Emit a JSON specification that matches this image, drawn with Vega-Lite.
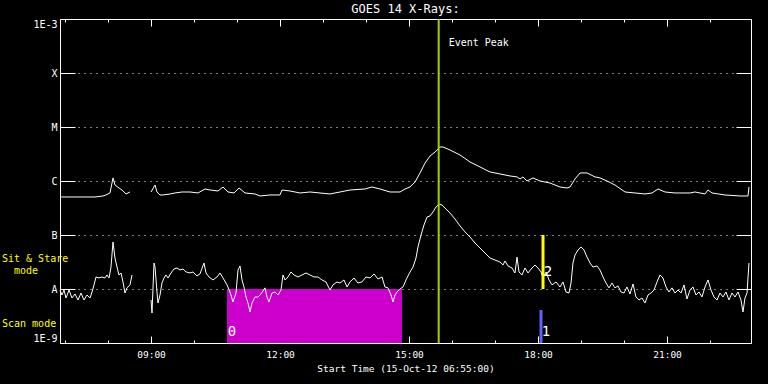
{
  "$schema": "https://vega.github.io/schema/vega-lite/v6.json",
  "width": 691,
  "height": 324,
  "autosize": {"type": "none"},
  "padding": {"left": 60, "top": 19, "right": 17, "bottom": 41},
  "background": "black",
  "title": {"text": "GOES 14 X-Rays:", "color": "white", "font": "DejaVu Sans Mono", "fontSize": 12, "fontWeight": "normal", "offset": 2, "anchor": "middle"},
  "config": {
    "view": {"stroke": null},
    "axis": {"domainColor": "white", "tickColor": "white", "labelColor": "white", "titleColor": "white", "labelFont": "DejaVu Sans Mono", "titleFont": "DejaVu Sans Mono", "titleFontWeight": "normal", "gridColor": "white", "domainWidth": 1, "tickWidth": 1}
  },
  "datasets": {
    "flux": [
      {"s":"L1","h":6.883,"f":5.06e-7},{"s":"L1","h":7.023,"f":5.06e-7},{"s":"L1","h":7.232,"f":5.06e-7},{"s":"L1","h":7.465,"f":5.06e-7},{"s":"L1","h":7.697,"f":5.06e-7},{"s":"L1","h":7.883,"f":5.28e-7},{"s":"L1","h":7.953,"f":5.51e-7},{"s":"L1","h":8.046,"f":6.0e-7},{"s":"L1","h":8.116,"f":1.14e-6},{"s":"L1","h":8.162,"f":8.43e-7},{"s":"L1","h":8.255,"f":7.42e-7},{"s":"L1","h":8.325,"f":6.81e-7},{"s":"L1","h":8.418,"f":5.75e-7},{"s":"L1","h":8.511,"f":6.26e-7},
      {"s":"L2","h":9.0,"f":6.26e-7},{"s":"L2","h":9.093,"f":8.43e-7},{"s":"L2","h":9.139,"f":6.26e-7},{"s":"L2","h":9.209,"f":5.51e-7},{"s":"L2","h":9.279,"f":5.51e-7},{"s":"L2","h":9.442,"f":5.75e-7},{"s":"L2","h":9.558,"f":6.0e-7},{"s":"L2","h":9.721,"f":6.26e-7},{"s":"L2","h":9.907,"f":6.26e-7},{"s":"L2","h":10.093,"f":6.0e-7},{"s":"L2","h":10.256,"f":7.11e-7},{"s":"L2","h":10.372,"f":6.81e-7},{"s":"L2","h":10.558,"f":6.53e-7},{"s":"L2","h":10.674,"f":7.74e-7},{"s":"L2","h":10.791,"f":6.26e-7},{"s":"L2","h":10.93,"f":6.0e-7},{"s":"L2","h":11.047,"f":7.42e-7},{"s":"L2","h":11.186,"f":6.0e-7},{"s":"L2","h":11.419,"f":5.75e-7},{"s":"L2","h":11.535,"f":5.28e-7},{"s":"L2","h":11.767,"f":5.51e-7},{"s":"L2","h":12.0,"f":5.51e-7},{"s":"L2","h":12.046,"f":6.81e-7},{"s":"L2","h":12.233,"f":6.53e-7},{"s":"L2","h":12.465,"f":6.0e-7},{"s":"L2","h":12.698,"f":6.26e-7},{"s":"L2","h":12.93,"f":6.0e-7},{"s":"L2","h":13.163,"f":5.75e-7},{"s":"L2","h":13.395,"f":6.26e-7},{"s":"L2","h":13.628,"f":6.81e-7},{"s":"L2","h":13.977,"f":7.11e-7},{"s":"L2","h":14.14,"f":7.74e-7},{"s":"L2","h":14.326,"f":7.11e-7},{"s":"L2","h":14.558,"f":6.26e-7},{"s":"L2","h":14.791,"f":6.26e-7},{"s":"L2","h":14.907,"f":7.11e-7},{"s":"L2","h":15.023,"f":7.74e-7},{"s":"L2","h":15.14,"f":9.58e-7},{"s":"L2","h":15.256,"f":1.41e-6},{"s":"L2","h":15.372,"f":2.15e-6},{"s":"L2","h":15.488,"f":2.9e-6},{"s":"L2","h":15.605,"f":3.44e-6},{"s":"L2","h":15.721,"f":4.26e-6},{"s":"L2","h":15.79,"f":4.26e-6},{"s":"L2","h":15.953,"f":3.75e-6},{"s":"L2","h":16.186,"f":3.03e-6},{"s":"L2","h":16.419,"f":2.25e-6},{"s":"L2","h":16.651,"f":1.82e-6},{"s":"L2","h":16.883,"f":1.47e-6},{"s":"L2","h":17.116,"f":1.35e-6},{"s":"L2","h":17.349,"f":1.24e-6},{"s":"L2","h":17.511,"f":1.19e-6},{"s":"L2","h":17.581,"f":1.09e-6},{"s":"L2","h":17.651,"f":1.19e-6},{"s":"L2","h":17.744,"f":1.0e-6},{"s":"L2","h":17.883,"f":1.14e-6},{"s":"L2","h":18.046,"f":1.0e-6},{"s":"L2","h":18.279,"f":9.18e-7},{"s":"L2","h":18.511,"f":7.74e-7},{"s":"L2","h":18.674,"f":7.42e-7},{"s":"L2","h":18.744,"f":7.74e-7},{"s":"L2","h":18.86,"f":1.09e-6},{"s":"L2","h":18.977,"f":1.41e-6},{"s":"L2","h":19.139,"f":1.41e-6},{"s":"L2","h":19.325,"f":1.19e-6},{"s":"L2","h":19.442,"f":1.14e-6},{"s":"L2","h":19.605,"f":1.0e-6},{"s":"L2","h":19.79,"f":8.43e-7},{"s":"L2","h":20.023,"f":6.26e-7},{"s":"L2","h":20.256,"f":6.0e-7},{"s":"L2","h":20.488,"f":5.75e-7},{"s":"L2","h":20.651,"f":6.0e-7},{"s":"L2","h":20.79,"f":7.11e-7},{"s":"L2","h":20.953,"f":6.26e-7},{"s":"L2","h":21.186,"f":6.0e-7},{"s":"L2","h":21.535,"f":6.0e-7},{"s":"L2","h":21.651,"f":6.26e-7},{"s":"L2","h":21.883,"f":5.75e-7},{"s":"L2","h":21.953,"f":6.81e-7},{"s":"L2","h":22.046,"f":6.0e-7},{"s":"L2","h":22.349,"f":5.51e-7},{"s":"L2","h":22.698,"f":5.28e-7},{"s":"L2","h":22.883,"f":5.28e-7},{"s":"L2","h":22.907,"f":7.74e-7},
      {"s":"S1","h":6.883,"f":9.58e-9},{"s":"S1","h":6.93,"f":7.74e-9},{"s":"S1","h":6.976,"f":9.58e-9},{"s":"S1","h":7.023,"f":6.81e-9},{"s":"S1","h":7.093,"f":9.58e-9},{"s":"S1","h":7.162,"f":6.81e-9},{"s":"S1","h":7.232,"f":8.08e-9},{"s":"S1","h":7.302,"f":6.26e-9},{"s":"S1","h":7.372,"f":8.43e-9},{"s":"S1","h":7.441,"f":6.26e-9},{"s":"S1","h":7.511,"f":7.74e-9},{"s":"S1","h":7.581,"f":6.81e-9},{"s":"S1","h":7.628,"f":8.8e-9},{"s":"S1","h":7.674,"f":1.19e-8},{"s":"S1","h":7.721,"f":1.67e-8},{"s":"S1","h":7.79,"f":1.6e-8},{"s":"S1","h":7.86,"f":1.67e-8},{"s":"S1","h":7.93,"f":1.6e-8},{"s":"S1","h":7.976,"f":1.82e-8},{"s":"S1","h":8.023,"f":1.6e-8},{"s":"S1","h":8.069,"f":2.55e-8},{"s":"S1","h":8.116,"f":7.42e-8},{"s":"S1","h":8.162,"f":3.75e-8},{"s":"S1","h":8.209,"f":2.55e-8},{"s":"S1","h":8.255,"f":1.82e-8},{"s":"S1","h":8.302,"f":1.98e-8},{"s":"S1","h":8.348,"f":1.35e-8},{"s":"S1","h":8.395,"f":8.43e-9},{"s":"S1","h":8.441,"f":1.05e-8},{"s":"S1","h":8.511,"f":1.19e-8},{"s":"S1","h":8.558,"f":1.82e-8},
      {"s":"S2","h":9.0,"f":6.26e-9},{"s":"S2","h":9.023,"f":3.59e-9},{"s":"S2","h":9.069,"f":3.03e-8},{"s":"S2","h":9.093,"f":2.55e-8},{"s":"S2","h":9.139,"f":8.8e-9},{"s":"S2","h":9.162,"f":5.51e-9},{"s":"S2","h":9.209,"f":7.74e-9},{"s":"S2","h":9.255,"f":1.29e-8},{"s":"S2","h":9.302,"f":1.6e-8},{"s":"S2","h":9.348,"f":1.82e-8},{"s":"S2","h":9.395,"f":1.6e-8},{"s":"S2","h":9.465,"f":1.98e-8},{"s":"S2","h":9.534,"f":2.35e-8},{"s":"S2","h":9.604,"f":2.45e-8},{"s":"S2","h":9.674,"f":2.25e-8},{"s":"S2","h":9.744,"f":2.35e-8},{"s":"S2","h":9.814,"f":2.07e-8},{"s":"S2","h":9.907,"f":1.98e-8},{"s":"S2","h":9.976,"f":2.07e-8},{"s":"S2","h":10.069,"f":1.74e-8},{"s":"S2","h":10.139,"f":1.9e-8},{"s":"S2","h":10.232,"f":3.03e-8},{"s":"S2","h":10.279,"f":1.98e-8},{"s":"S2","h":10.348,"f":1.67e-8},{"s":"S2","h":10.441,"f":1.47e-8},{"s":"S2","h":10.534,"f":1.67e-8},{"s":"S2","h":10.604,"f":1.98e-8},{"s":"S2","h":10.674,"f":1.6e-8},{"s":"S2","h":10.767,"f":1.19e-8},{"s":"S2","h":10.837,"f":8.8e-9},{"s":"S2","h":10.907,"f":5.75e-9},{"s":"S2","h":10.976,"f":8.43e-9},{"s":"S2","h":11.023,"f":2.25e-8},{"s":"S2","h":11.069,"f":2.67e-8},{"s":"S2","h":11.116,"f":1.47e-8},{"s":"S2","h":11.162,"f":1.09e-8},{"s":"S2","h":11.209,"f":7.11e-9},{"s":"S2","h":11.255,"f":5.51e-9},{"s":"S2","h":11.302,"f":3.75e-9},{"s":"S2","h":11.348,"f":5.51e-9},{"s":"S2","h":11.418,"f":7.11e-9},{"s":"S2","h":11.488,"f":7.11e-9},{"s":"S2","h":11.558,"f":8.08e-9},{"s":"S2","h":11.651,"f":1.05e-8},{"s":"S2","h":11.697,"f":7.11e-9},{"s":"S2","h":11.744,"f":5.75e-9},{"s":"S2","h":11.813,"f":8.43e-9},{"s":"S2","h":11.883,"f":8.8e-9},{"s":"S2","h":11.953,"f":7.74e-9},{"s":"S2","h":12.023,"f":9.58e-9},{"s":"S2","h":12.069,"f":1.82e-8},{"s":"S2","h":12.116,"f":1.47e-8},{"s":"S2","h":12.186,"f":1.67e-8},{"s":"S2","h":12.255,"f":2.07e-8},{"s":"S2","h":12.325,"f":1.82e-8},{"s":"S2","h":12.418,"f":1.67e-8},{"s":"S2","h":12.511,"f":1.82e-8},{"s":"S2","h":12.604,"f":1.98e-8},{"s":"S2","h":12.697,"f":1.82e-8},{"s":"S2","h":12.79,"f":1.67e-8},{"s":"S2","h":12.883,"f":1.67e-8},{"s":"S2","h":12.976,"f":1.47e-8},{"s":"S2","h":13.069,"f":1.35e-8},{"s":"S2","h":13.162,"f":9.58e-9},{"s":"S2","h":13.232,"f":1.19e-8},{"s":"S2","h":13.325,"f":1.35e-8},{"s":"S2","h":13.395,"f":1.29e-8},{"s":"S2","h":13.488,"f":1.47e-8},{"s":"S2","h":13.558,"f":1.09e-8},{"s":"S2","h":13.627,"f":1.35e-8},{"s":"S2","h":13.72,"f":1.6e-8},{"s":"S2","h":13.813,"f":1.29e-8},{"s":"S2","h":13.906,"f":1.35e-8},{"s":"S2","h":13.999,"f":1.67e-8},{"s":"S2","h":14.092,"f":1.6e-8},{"s":"S2","h":14.185,"f":1.9e-8},{"s":"S2","h":14.279,"f":1.53e-8},{"s":"S2","h":14.372,"f":1.67e-8},{"s":"S2","h":14.441,"f":1.09e-8},{"s":"S2","h":14.511,"f":1.05e-8},{"s":"S2","h":14.581,"f":7.74e-9},{"s":"S2","h":14.627,"f":5.75e-9},{"s":"S2","h":14.674,"f":7.74e-9},{"s":"S2","h":14.72,"f":8.8e-9},{"s":"S2","h":14.79,"f":1.0e-8},{"s":"S2","h":14.86,"f":1.09e-8},{"s":"S2","h":14.93,"f":1.47e-8},{"s":"S2","h":15.023,"f":2.07e-8},{"s":"S2","h":15.092,"f":2.55e-8},{"s":"S2","h":15.162,"f":3.75e-8},{"s":"S2","h":15.209,"f":6.0e-8},{"s":"S2","h":15.279,"f":1.0e-7},{"s":"S2","h":15.348,"f":1.53e-7},{"s":"S2","h":15.418,"f":2.15e-7},{"s":"S2","h":15.488,"f":2.25e-7},{"s":"S2","h":15.558,"f":2.67e-7},{"s":"S2","h":15.627,"f":3.3e-7},{"s":"S2","h":15.697,"f":3.75e-7},{"s":"S2","h":15.767,"f":3.59e-7},{"s":"S2","h":15.86,"f":3.03e-7},{"s":"S2","h":15.953,"f":2.55e-7},{"s":"S2","h":16.069,"f":1.98e-7},{"s":"S2","h":16.186,"f":1.47e-7},{"s":"S2","h":16.302,"f":1.14e-7},{"s":"S2","h":16.418,"f":9.18e-8},{"s":"S2","h":16.534,"f":7.11e-8},{"s":"S2","h":16.651,"f":5.75e-8},{"s":"S2","h":16.767,"f":4.64e-8},{"s":"S2","h":16.883,"f":3.75e-8},{"s":"S2","h":17.0,"f":3.44e-8},{"s":"S2","h":17.116,"f":3.16e-8},{"s":"S2","h":17.186,"f":2.78e-8},{"s":"S2","h":17.232,"f":3.3e-8},{"s":"S2","h":17.302,"f":2.67e-8},{"s":"S2","h":17.395,"f":2.45e-8},{"s":"S2","h":17.465,"f":1.98e-8},{"s":"S2","h":17.511,"f":3.91e-8},{"s":"S2","h":17.558,"f":2.07e-8},{"s":"S2","h":17.627,"f":1.82e-8},{"s":"S2","h":17.697,"f":2.45e-8},{"s":"S2","h":17.767,"f":1.98e-8},{"s":"S2","h":17.86,"f":2.45e-8},{"s":"S2","h":17.93,"f":2.78e-8},{"s":"S2","h":18.0,"f":2.45e-8},{"s":"S2","h":18.069,"f":2.07e-8},{"s":"S2","h":18.116,"f":1.6e-8},{"s":"S2","h":18.186,"f":2.07e-8},{"s":"S2","h":18.255,"f":1.47e-8},{"s":"S2","h":18.325,"f":1.19e-8},{"s":"S2","h":18.418,"f":1.35e-8},{"s":"S2","h":18.511,"f":1.09e-8},{"s":"S2","h":18.581,"f":1.35e-8},{"s":"S2","h":18.651,"f":8.8e-9},{"s":"S2","h":18.72,"f":8.43e-9},{"s":"S2","h":18.767,"f":1.29e-8},{"s":"S2","h":18.813,"f":3.03e-8},{"s":"S2","h":18.86,"f":4.26e-8},{"s":"S2","h":18.93,"f":5.28e-8},{"s":"S2","h":19.0,"f":6.0e-8},{"s":"S2","h":19.069,"f":5.28e-8},{"s":"S2","h":19.139,"f":3.91e-8},{"s":"S2","h":19.209,"f":3.03e-8},{"s":"S2","h":19.278,"f":2.55e-8},{"s":"S2","h":19.371,"f":2.67e-8},{"s":"S2","h":19.441,"f":2.25e-8},{"s":"S2","h":19.511,"f":1.67e-8},{"s":"S2","h":19.581,"f":1.29e-8},{"s":"S2","h":19.65,"f":1.05e-8},{"s":"S2","h":19.72,"f":1.29e-8},{"s":"S2","h":19.79,"f":1.05e-8},{"s":"S2","h":19.86,"f":1.14e-8},{"s":"S2","h":19.93,"f":8.8e-9},{"s":"S2","h":19.999,"f":8.43e-9},{"s":"S2","h":20.069,"f":1.09e-8},{"s":"S2","h":20.139,"f":8.08e-9},{"s":"S2","h":20.209,"f":1.24e-8},{"s":"S2","h":20.278,"f":7.11e-9},{"s":"S2","h":20.348,"f":6.26e-9},{"s":"S2","h":20.418,"f":6.81e-9},{"s":"S2","h":20.488,"f":5.51e-9},{"s":"S2","h":20.557,"f":7.74e-9},{"s":"S2","h":20.627,"f":8.43e-9},{"s":"S2","h":20.697,"f":9.58e-9},{"s":"S2","h":20.767,"f":1.35e-8},{"s":"S2","h":20.837,"f":1.82e-8},{"s":"S2","h":20.906,"f":1.6e-8},{"s":"S2","h":20.976,"f":1.09e-8},{"s":"S2","h":21.046,"f":8.8e-9},{"s":"S2","h":21.116,"f":1.05e-8},{"s":"S2","h":21.185,"f":8.43e-9},{"s":"S2","h":21.255,"f":9.58e-9},{"s":"S2","h":21.325,"f":8.43e-9},{"s":"S2","h":21.395,"f":1.19e-8},{"s":"S2","h":21.464,"f":6.53e-9},{"s":"S2","h":21.534,"f":9.58e-9},{"s":"S2","h":21.604,"f":1.09e-8},{"s":"S2","h":21.674,"f":7.74e-9},{"s":"S2","h":21.744,"f":8.8e-9},{"s":"S2","h":21.813,"f":7.11e-9},{"s":"S2","h":21.883,"f":1.09e-8},{"s":"S2","h":21.953,"f":1.47e-8},{"s":"S2","h":22.023,"f":9.58e-9},{"s":"S2","h":22.092,"f":7.11e-9},{"s":"S2","h":22.162,"f":6.26e-9},{"s":"S2","h":22.232,"f":8.43e-9},{"s":"S2","h":22.302,"f":7.11e-9},{"s":"S2","h":22.371,"f":8.8e-9},{"s":"S2","h":22.441,"f":6.26e-9},{"s":"S2","h":22.511,"f":8.43e-9},{"s":"S2","h":22.581,"f":7.11e-9},{"s":"S2","h":22.65,"f":8.8e-9},{"s":"S2","h":22.72,"f":6.26e-9},{"s":"S2","h":22.767,"f":3.75e-9},{"s":"S2","h":22.813,"f":6.81e-9},{"s":"S2","h":22.86,"f":8.43e-9},{"s":"S2","h":22.906,"f":3.03e-8}
    ]
  },
  "layer": [
    {
      "data": {"values": [{"start": 10.767, "end": 14.837, "lo": 1e-9, "hi": 1e-8}]},
      "mark": {"type": "rect", "color": "#cc00cc"},
      "encoding": {
        "x": {"field": "start", "type": "quantitative", "scale": {"domain": [6.8833, 22.953], "nice": false, "zero": false},
          "axis": {"orient": "top", "values": [7,8,9,10,11,12,13,14,15,16,17,18,19,20,21,22], "tickSize": {"condition": {"test": "datum.value % 3 == 0", "value": -7}, "value": -3}, "labels": false, "title": null, "grid": false}},
        "x2": {"field": "end"},
        "y": {"field": "lo", "type": "quantitative", "scale": {"type": "log", "domain": [1e-9, 1e-3], "nice": false},
          "axis": {"orient": "right", "values": [1e-9,1e-8,1e-7,1e-6,1e-5,1e-4,1e-3], "tickSize": -15, "labels": false, "title": null, "grid": false}},
        "y2": {"field": "hi"}
      }
    },
    {
      "data": {"name": "flux"},
      "mark": {"type": "line", "color": "white", "strokeWidth": 1},
      "encoding": {
        "x": {"field": "h", "type": "quantitative", "scale": {"domain": [6.8833, 22.953], "nice": false, "zero": false},
          "axis": {"orient": "bottom", "values": [7,8,9,10,11,12,13,14,15,16,17,18,19,20,21,22], "tickSize": {"condition": {"test": "datum.value % 3 == 0", "value": -7}, "value": -3},
            "labelExpr": "datum.value % 3 == 0 ? (datum.value < 10 ? '0' : '') + datum.value + ':00' : ''", "labelFontSize": 9.5, "labelPadding": 13, "labelFlush": false, "labelOverlap": false,
            "title": "Start Time (15-Oct-12 06:55:00)", "titleFontSize": 9.5, "titlePadding": 1, "grid": false}},
        "y": {"field": "f", "type": "quantitative", "scale": {"type": "log", "domain": [1e-9, 1e-3], "nice": false},
          "axis": {"orient": "left", "values": [1e-9,1e-8,1e-7,1e-6,1e-5,1e-4,1e-3], "tickSize": -15,
            "labelExpr": "datum.value < 5e-9 ? '1E-9' : datum.value < 5e-8 ? 'A' : datum.value < 5e-7 ? 'B' : datum.value < 5e-6 ? 'C' : datum.value < 5e-5 ? 'M' : datum.value < 5e-4 ? 'X' : '1E-3'",
            "labelFontSize": 10, "labelPadding": 18, "labelFlush": true, "labelOverlap": false, "title": null,
            "grid": true, "gridDash": [1, 5], "gridOpacity": {"condition": {"test": "datum.value > 5e-9 && datum.value < 5e-4", "value": 1}, "value": 0}}},
        "detail": {"field": "s"}
      }
    },
    {
      "data": {"values": [{"h": 15.69}]},
      "mark": {"type": "rule", "color": "#a5d000", "strokeWidth": 2},
      "encoding": {"x": {"field": "h", "type": "quantitative", "axis": null}}
    },
    {
      "data": {"values": [{"name": "sit", "h": 18.116, "lo": 1e-8, "hi": 1e-7}, {"name": "scan", "h": 18.069, "lo": 1e-9, "hi": 4.08e-9}]},
      "mark": {"type": "rule", "strokeWidth": 3},
      "encoding": {
        "x": {"field": "h", "type": "quantitative", "axis": null},
        "y": {"field": "lo", "type": "quantitative", "axis": null},
        "y2": {"field": "hi"},
        "color": {"field": "name", "type": "nominal", "scale": {"domain": ["sit", "scan"], "range": ["#ffff00", "#6060ff"]}, "legend": null}
      }
    },
    {
      "data": {"values": [{"h": 15.69, "f": 3.59e-4, "t": "Event Peak"}]},
      "mark": {"type": "text", "align": "left", "baseline": "middle", "dx": 10, "font": "DejaVu Sans Mono", "fontSize": 10, "color": "white"},
      "encoding": {"x": {"field": "h", "type": "quantitative", "axis": null}, "y": {"field": "f", "type": "quantitative", "axis": null}, "text": {"field": "t"}}
    },
    {
      "data": {"values": [{"h": 6.8833, "f": 3.59e-8, "t": "Sit & Stare"}, {"h": 6.8833, "f": 2.25e-9, "t": "Scan mode"}]},
      "mark": {"type": "text", "align": "left", "baseline": "middle", "dx": -58, "font": "DejaVu Sans Mono", "fontSize": 10, "color": "#ffff00"},
      "encoding": {"x": {"field": "h", "type": "quantitative", "axis": null}, "y": {"field": "f", "type": "quantitative", "axis": null}, "text": {"field": "t"}}
    },
    {
      "data": {"values": [{"h": 6.8833, "f": 2.15e-8, "t": "mode"}]},
      "mark": {"type": "text", "align": "left", "baseline": "middle", "dx": -46, "font": "DejaVu Sans Mono", "fontSize": 10, "color": "#ffff00"},
      "encoding": {"x": {"field": "h", "type": "quantitative", "axis": null}, "y": {"field": "f", "type": "quantitative", "axis": null}, "text": {"field": "t"}}
    },
    {
      "data": {"values": [{"h": 10.767, "f": 1.6e-9, "t": "0"}, {"h": 18.069, "f": 1.6e-9, "t": "1"}, {"h": 18.116, "f": 2.07e-8, "t": "2"}]},
      "mark": {"type": "text", "align": "center", "baseline": "middle", "dx": 5, "font": "DejaVu Sans Mono", "fontSize": 14, "color": "white"},
      "encoding": {"x": {"field": "h", "type": "quantitative", "axis": null}, "y": {"field": "f", "type": "quantitative", "axis": null}, "text": {"field": "t"}}
    }
  ],
  "resolve": {"axis": {"x": "independent", "y": "independent"}}
}
